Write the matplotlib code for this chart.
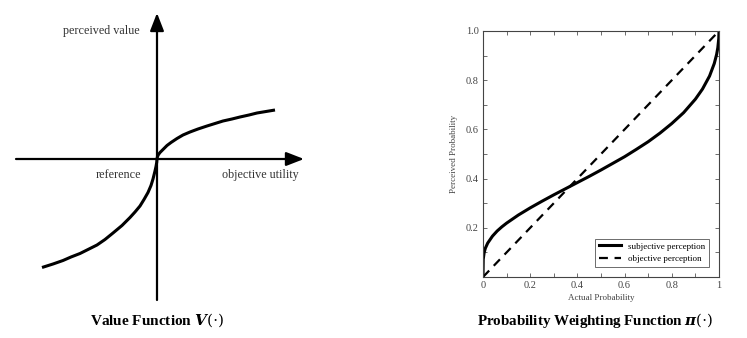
import numpy as np
from matplotlib import pyplot as plt

plt.rcParams['font.family'] = ['Liberation Serif', 'DejaVu Serif']
plt.rcParams['mathtext.fontset'] = 'dejavuserif'

# value function: points (origin = reference point)
gain_x = [0, 0.5, 1.5, 3, 5, 7.5, 10, 14, 20, 26, 33, 41, 50, 58, 66, 75, 83, 92, 100, 109, 118]
gain_y = [0, 2.5, 4.5, 6.5, 8.5, 11, 13.5, 16.5, 20.5, 24, 27, 30, 33, 35.5, 38, 40, 42, 44,
          46, 47.5, 49]
loss_x = [0, -0.3, -1, -2, -4, -6, -9, -13, -17, -22, -27, -35, -44, -52, -60, -69, -77, -86,
          -94, -104, -115]
loss_y = [0, -3.5, -7.5, -12, -20, -26.5, -33.5, -40.5, -47, -53, -58.5, -66.5, -74, -80.5,
          -86, -90.5, -94.5, -98, -101.5, -105, -108.5]

# probability weighting: points
actual_p = [0, 0.001, 0.005, 0.01, 0.02, 0.04, 0.06, 0.08, 0.1, 0.15, 0.2, 0.25, 0.3,
            0.35, 0.4, 0.45, 0.5, 0.55, 0.6, 0.65, 0.7, 0.75, 0.8, 0.85, 0.9, 0.93,
            0.96, 0.98, 0.99, 0.995, 0.999, 1.0]
perceived_p = [0, 0.072, 0.100, 0.117, 0.138, 0.166, 0.187, 0.204, 0.219, 0.252, 0.281,
               0.308, 0.334, 0.359, 0.384, 0.409, 0.435, 0.462, 0.489, 0.519, 0.550,
               0.585, 0.624, 0.668, 0.723, 0.764, 0.817, 0.868, 0.905, 0.932, 0.969, 1.0]
objective_p = [0, 1]

W, H = 747, 338
fig = plt.figure(figsize=(W / 100, H / 100), dpi=100)

# ---- left: value function sketch ----
ax1 = fig.add_axes([0, 0, 320 / W, 1])
ax1.set_xlim(-157, 163)
ax1.set_ylim(-179, 159)
ax1.axis('off')

arrow = dict(arrowstyle='-|>,head_length=0.9,head_width=0.35', color='black', lw=1.6,
             mutation_scale=12, shrinkA=0, shrinkB=0)
ax1.annotate('', xy=(147, 0), xytext=(-141, 0), arrowprops=arrow)
ax1.annotate('', xy=(0, 146), xytext=(0, -141), arrowprops=arrow)

ax1.plot(gain_x, gain_y, color='black', lw=2.2, solid_capstyle='butt')
ax1.plot(loss_x, loss_y, color='black', lw=2.2, solid_capstyle='butt')

txt = dict(fontsize=8.7, color='#333333')
ax1.text(-17, 128, 'perceived value', ha='right', va='center', **txt)
ax1.text(-16, -16, 'reference', ha='right', va='center', **txt)
ax1.text(65, -16, 'objective utility', ha='left', va='center', **txt)
ax1.text(0, -161, r'Value Function $\mathbfit{V}(\cdot)$', ha='center', va='center',
         fontsize=11, fontweight='bold')

# ---- right: probability weighting function ----
ax2 = fig.add_axes([483 / W, 61 / H, 236 / W, 246 / H])
ax2.plot(actual_p, perceived_p, color='black', lw=2.2, label='subjective perception')
ax2.plot(objective_p, objective_p, color='black', lw=1.6, dashes=(4, 3),
         label='objective perception')
ax2.set_xlim(0, 1)
ax2.set_ylim(0, 1)
ax2.set_xticks([0, 0.2, 0.4, 0.6, 0.8, 1.0])
ax2.set_xticklabels(['0', '0.2', '0.4', '0.6', '0.8', '1'])
ax2.set_yticks([0.2, 0.4, 0.6, 0.8, 1.0])
ax2.set_yticklabels(['0.2', '0.4', '0.6', '0.8', '1.0'])
ax2.set_xticks(np.arange(0.1, 1.0, 0.2), minor=True)
ax2.set_yticks(np.arange(0.1, 1.0, 0.2), minor=True)
ax2.tick_params(which='both', direction='in', top=True, right=True, length=3,
                width=0.6, color='#555555', labelsize=7.5, labelcolor='#444444', pad=3)
for s in ax2.spines.values():
    s.set_linewidth(0.8)
    s.set_color('#444444')
ax2.set_xlabel('Actual Probability', fontsize=6.5, color='#444444', labelpad=3)
ax2.set_ylabel('Perceived Probability', fontsize=6.5, color='#444444', labelpad=6)
leg = ax2.legend(loc='lower right', fontsize=6.5, frameon=True, fancybox=False,
                 handlelength=2.5, borderaxespad=1.1, framealpha=1)
leg.get_frame().set_edgecolor('#555555')
leg.get_frame().set_linewidth(0.6)

fig.text(595 / W, 1 - 320 / H, r'Probability Weighting Function $\mathbfit{\pi}(\cdot)$',
         ha='center', va='center', fontsize=10.8, fontweight='bold')

fig.savefig('out.png', dpi=100)
